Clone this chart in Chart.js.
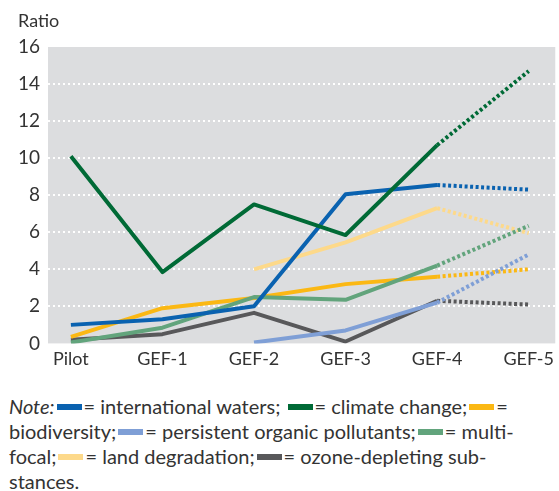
<!DOCTYPE html>
<html>
<head>
<meta charset="utf-8">
<script src="https://cdn.jsdelivr.net/npm/chart.js@4/dist/chart.umd.min.js"></script>
<style>
  body { margin: 0; background: #fff; font-family: Lato, sans-serif; color: #333; }
  #wrap { position: relative; width: 559px; height: 375px; }
  #ratio { position: absolute; left: 18px; top: 9px; font-size: 18px; }
  #note { width: 559px; padding-left: 9px; box-sizing: border-box; font-size: 20px; line-height: 25px; margin-top: 19px; white-space: nowrap; }
  .sw { display: inline-block; width: 25px; height: 6px; vertical-align: middle; margin: 0 2px 3px 2px; }
</style>
</head>
<body>
<div id="wrap">
  <div id="ratio">Ratio</div>
  <canvas id="lines" width="559" height="375"></canvas>
</div>
<div id="note">
<i>Note:</i><span class="sw" style="background:#0a62b0"></span>= international waters; <span class="sw" style="background:#006a36"></span>= climate change;<span class="sw" style="background:#fbb814"></span>=<br>
biodiversity;<span class="sw" style="background:#7f9fd6"></span>= persistent organic pollutants;<span class="sw" style="background:#62a47c"></span>= multi-<br>
focal;<span class="sw" style="background:#fdd98a"></span>= land degradation;<span class="sw" style="background:#58585a"></span>= ozone-depleting sub-<br>
stances.
</div>
<script>
const periods = ["Pilot", "GEF-1", "GEF-2", "GEF-3", "GEF-4", "GEF-5"];
const yTicks = [0, 2, 4, 6, 8, 10, 12, 14, 16];

const intlWaters = [1.0, 1.3, 2.0, 8.05, 8.55, 8.3];
const climate = [10.1, 3.85, 7.5, 5.85, 10.7, 14.7];
const biodiversity = [0.35, 1.9, 2.45, 3.2, 3.6, 4.0];
const pops = [null, null, 0.05, 0.7, 2.2, 4.8];
const multifocal = [0.05, 0.85, 2.5, 2.35, 4.2, 6.35];
const landDeg = [null, null, 4.0, 5.45, 7.3, 5.95];
const ozone = [0.2, 0.5, 1.65, 0.1, 2.3, 2.1];

function pts(arr) {
  return arr.map((v, i) => ({ x: i, y: v }));
}

function series(label, arr, color, order) {
  return {
    label: label,
    data: pts(arr),
    borderColor: color,
    backgroundColor: color,
    borderWidth: 4,
    pointRadius: 0,
    tension: 0,
    borderCapStyle: "butt",
    borderJoinStyle: "round",
    order: order,
    segment: {
      borderDash: ctx => ctx.p0DataIndex === 4 ? [3, 2.5] : undefined
    }
  };
}

// grey plot background + dotted white gridlines
const plotBg = {
  id: "plotBg",
  beforeDatasetsDraw(chart) {
    const a = chart.chartArea;
    const c = chart.ctx;
    const ys = chart.scales.y;
    c.save();
    c.fillStyle = "#dcdddf";
    c.fillRect(a.left, a.top, a.right - a.left, a.bottom - a.top);
    c.strokeStyle = "#ffffff";
    c.lineWidth = 2;
    c.setLineDash([2, 3]);
    yTicks.forEach(v => {
      if (v <= 0 || v >= 16) return;
      const y = Math.round(ys.getPixelForValue(v));
      c.beginPath();
      c.moveTo(a.left, y);
      c.lineTo(a.right, y);
      c.stroke();
    });
    c.restore();
  }
};

new Chart(document.getElementById("lines"), {
  type: "line",
  data: {
    datasets: [
      series("climate change", climate, "#006a36", 0),
      series("persistent organic pollutants", pops, "#7f9fd6", 1),
      series("international waters", intlWaters, "#0a62b0", 2),
      series("multi-focal", multifocal, "#62a47c", 3),
      series("biodiversity", biodiversity, "#fbb814", 4),
      series("land degradation", landDeg, "#fdd98a", 5),
      series("ozone-depleting substances", ozone, "#58585a", 6)
    ]
  },
  options: {
    responsive: false,
    animation: false,
    layout: { padding: { top: 47, right: 0, left: 0, bottom: 0 } },
    plugins: { legend: { display: false }, tooltip: { enabled: false } },
    scales: {
      x: {
        type: "linear",
        min: -0.25,
        max: 5.29,
        afterBuildTicks: s => { s.ticks = periods.map((p, i) => ({ value: i })); },
        ticks: {
          callback: v => periods[v],
          color: "#333",
          font: { family: "Lato", size: 18 },
          padding: 5,
          maxRotation: 0
        },
        grid: { display: false, drawTicks: false },
        border: { display: false }
      },
      y: {
        min: 0,
        max: 16,
        afterBuildTicks: s => { s.ticks = yTicks.map(v => ({ value: v })); },
        afterFit: s => { s.width = 48; },
        ticks: {
          color: "#333",
          font: { family: "Lato", size: 19 },
          padding: 8
        },
        grid: { display: false, drawTicks: false },
        border: { display: false }
      }
    }
  },
  plugins: [plotBg]
});
</script>
</body>
</html>
